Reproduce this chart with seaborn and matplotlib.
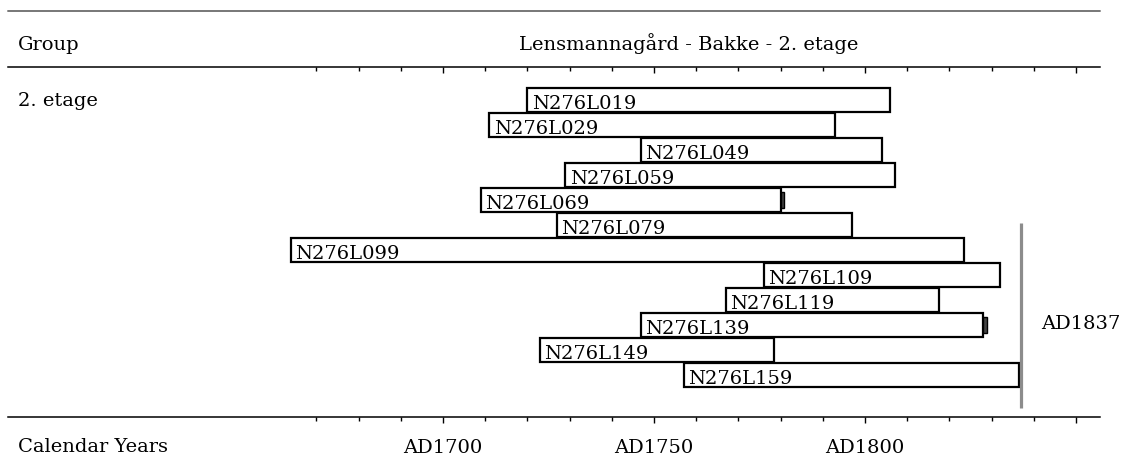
import matplotlib
matplotlib.use("Agg")
import matplotlib.pyplot as plt
from matplotlib.lines import Line2D
import seaborn as sns

samples = ["N276L019", "N276L029", "N276L049", "N276L059", "N276L069", "N276L079",
           "N276L099", "N276L109", "N276L119", "N276L139", "N276L149", "N276L159"]
first_year = [1720, 1711, 1747, 1729, 1709, 1727, 1664, 1776, 1767, 1747, 1723, 1757]
last_year = [1806, 1793, 1804, 1807, 1780, 1797, 1823.5, 1832, 1817.5, 1828, 1778.5, 1836.5]
edge_mark = [0, 0, 0, 0, 1, 0, 0, 0, 0, 1, 0, 0]

major_years = [1700, 1750, 1800, 1850]
minor_years = [1670, 1680, 1690, 1710, 1720, 1730, 1740, 1760, 1770, 1780, 1790,
               1810, 1820, 1830, 1840]
major_labels = ["AD1700", "AD1750", "AD1800", ""]
felling = 1837

lengths = [e - s for s, e in zip(first_year, last_year)]

sns.set_theme(style="white")
plt.rcParams["font.family"] = ["DejaVu Serif"]
plt.rcParams["font.size"] = 14
plt.rcParams["text.color"] = "black"
plt.rcParams["xtick.color"] = "black"
plt.rcParams["xtick.labelcolor"] = "black"

W, H = 1125, 462
fig = plt.figure(figsize=(W / 100, H / 100), dpi=100)
# axes between the middle rule (y=67px) and the bottom rule (y=417px)
ax = fig.add_axes([0, 1 - 417 / H, 1, 350 / H])

sns.barplot(x=lengths, y=samples, left=first_year, orient="h", color="white",
            edgecolor="black", linewidth=1.6, width=0.94, errorbar=None,
            saturation=1, ax=ax)

for i, (name, s) in enumerate(zip(samples, first_year)):
    ax.annotate(name, xy=(s, i), xytext=(3, -6.5), textcoords="offset points",
                ha="left", va="baseline", fontsize=14, color="black", zorder=4)

for i, (e, m) in enumerate(zip(last_year, edge_mark)):
    if m:
        ax.barh(i, 0.8, left=e, height=0.64, color="#444444", edgecolor="black",
                linewidth=1, zorder=3)

ax.vlines(felling, 4.9, 12.3, color="#8c8c8c", lw=2.3)
ax.annotate(f"AD{felling}", xy=(felling, 8.96), xytext=(14.5, 0),
            textcoords="offset points", ha="left", va="center", fontsize=14,
            color="black")

x0 = 1700 + (0 - 443) / 4.22
x1 = 1700 + (W - 443) / 4.22
ax.set_xlim(x0, x1)
ax.set_ylim(12.68, -1.32)
ax.set_yticks([])
ax.set_xlabel("")
ax.set_ylabel("")

for side in ["left", "right"]:
    ax.spines[side].set_visible(False)
for side in ["top", "bottom"]:
    ax.spines[side].set_visible(True)
    ax.spines[side].set_color("black")
    ax.spines[side].set_linewidth(1.1)
    ax.spines[side].set_bounds(1700 + (8 - 443) / 4.22, 1700 + (1100 - 443) / 4.22)

ax.set_xticks(major_years)
ax.set_xticklabels(major_labels)
ax.set_xticks(minor_years, minor=True)
ax.tick_params(axis="x", which="major", bottom=True, top=False, direction="out",
               length=4.5, width=1, color="black", pad=11, labelsize=14,
               labelcolor="black")
ax.tick_params(axis="x", which="minor", bottom=True, top=False, direction="out",
               length=3, width=1, color="black")

sec = ax.secondary_xaxis("top")
sec.set_xticks(major_years)
sec.set_xticklabels([])
sec.set_xticks(minor_years, minor=True)
sec.tick_params(axis="x", which="major", direction="in", length=4.5, width=1,
                color="black", labeltop=False)
sec.tick_params(axis="x", which="minor", direction="in", length=3, width=1,
                color="black")
sec.spines["top"].set_visible(False)

# header rule and texts
fig.add_artist(Line2D([8 / W, 1100 / W], [1 - 11 / H, 1 - 11 / H],
                      color="#777777", lw=1.4))
fig.text(18 / W, 1 - 50 / H, "Group", ha="left", va="baseline", fontsize=14)
fig.text(689 / W, 1 - 50 / H, "Lensmannagård - Bakke - 2. etage", ha="center",
         va="baseline", fontsize=14)
fig.text(18 / W, 1 - 106 / H, "2. etage", ha="left", va="baseline", fontsize=14)
fig.text(18 / W, 1 - 452 / H, "Calendar Years", ha="left", va="baseline", fontsize=14)

fig.savefig("out.png", dpi=100)
